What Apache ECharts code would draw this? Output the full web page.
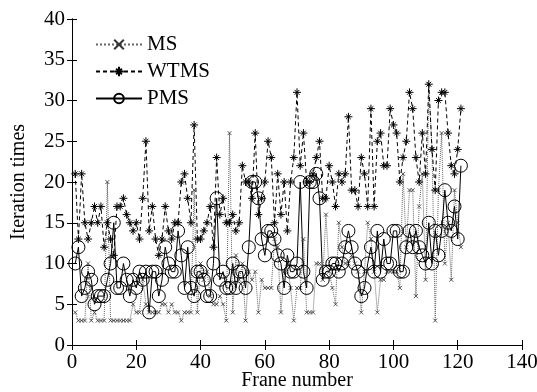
<!DOCTYPE html>
<html><head><meta charset="utf-8">
<script src="https://cdn.jsdelivr.net/npm/echarts@6/dist/echarts.min.js"></script>
<style>html,body{margin:0;padding:0;background:#fff}#c{width:537px;height:392px}</style>
</head><body><div id="c"></div>
<script>
var frames = [];
for (var i = 1; i <= 121; i++) frames.push(i);
var ms = [4,3,3,3,10,3,4,3,3,3,20,3,3,3,3,3,3,3,5,4,4,8,5,4,4,4,4,5,5,4,5,4,4,3,4,4,4,19,4,10,8,9,6,5,5,6,5,3,26,4,11,8,10,3,9,
8,9,4,8,7,7,7,13,12,4,9,10,7,3,7,7,13,4,4,4,10,10,8,16,9,7,5,15,12,10,10,11,10,9,4,9,15,13,9,4,8,8,9,9,9,9,7,21,12,19,19,6,17,21,8,32,24,3,19,26,10,15,8,19,15,12];
var wtms = [21,13,21,15,13,15,17,15,17,12,15,13,11,17,17,18,16,15,14,15,13,18,25,14,17,13,11,13,17,14,13,15,15,20,21,18,15,27,13,13,14,15,17,12,23,16,18,15,15,16,14,15,22,20,20,18,26,16,18,20,25,23,15,21,16,20,14,20,23,31,22,26,20,20,21,23,25,18,18,22,20,17,21,20,21,28,19,19,17,23,21,17,29,17,25,26,22,22,29,27,26,20,23,25,31,29,23,20,26,21,32,24,19,30,31,31,26,22,21,24,29];
var pms = [10,12,6,7,9,8,5,6,6,6,8,10,15,7,7,10,8,6,8,7,9,8,9,4,9,9,6,8,12,10,9,9,14,11,7,12,7,6,9,9,8,6,6,10,18,8,9,7,7,10,7,9,9,7,12,20,20,18,13,11,14,14,13,11,10,7,11,9,9,10,20,9,7,20,20,21,18,8,9,9,10,10,9,10,12,14,12,10,9,6,7,10,12,9,14,9,13,10,10,14,14,9,9,12,14,12,14,12,11,10,15,10,14,11,14,19,15,14,17,13,22];
var xTicks = [0,20,40,60,80,100,120,140];
var yTicks = [0,5,10,15,20,25,30,35,40];

function pairs(v){ return v.map(function(y,i){ return [frames[i], y]; }); }
var FONT = 'Liberation Serif';
var chart = echarts.init(document.getElementById('c'));
var axisBase = {
  axisLine:{show:true, lineStyle:{color:'#000', width:1}},
  axisTick:{show:true, inside:true, length:5, lineStyle:{color:'#000'}},
  splitLine:{show:false}
};
chart.setOption({
  animation:false,
  backgroundColor:'#fff',
  textStyle:{fontFamily:FONT, color:'#000'},
  grid:{left:72, right:15, top:19, bottom:47, show:false, containLabel:false, outerBoundsMode:'none'},
  legend:{
    orient:'vertical', left:90, top:29, itemWidth:46, itemHeight:12, itemGap:6,
    textStyle:{fontFamily:FONT, fontSize:21, color:'#000'},
    data:['MS','WTMS','PMS']
  },
  xAxis:[
    Object.assign({type:'value', min:xTicks[0], max:xTicks[xTicks.length-1], interval:20, position:'bottom',
      name:'Frane number', nameLocation:'middle', nameGap:26, nameMoveOverlap:false,
      nameTextStyle:{fontFamily:FONT, fontSize:20, color:'#000'},
      axisLabel:{fontFamily:FONT, fontSize:21, color:'#000', margin:7}}, axisBase),
    Object.assign({type:'value', min:0, max:140, interval:20, position:'top', axisLabel:{show:false}}, axisBase)
  ],
  yAxis:[
    Object.assign({type:'value', min:yTicks[0], max:yTicks[yTicks.length-1], interval:5, position:'left',
      name:'Iteration times', nameLocation:'middle', nameGap:43, nameMoveOverlap:false,
      nameTextStyle:{fontFamily:FONT, fontSize:20, color:'#000'},
      axisLabel:{fontFamily:FONT, fontSize:21, color:'#000', margin:7}}, axisBase),
    Object.assign({type:'value', min:0, max:40, interval:5, position:'right', axisLabel:{show:false}}, axisBase)
  ],
  series:[
    {name:'MS', type:'line', data:pairs(ms), symbol:'path://M0,0L10,10M10,0L0,10', symbolSize:4,
      lineStyle:{type:'dotted', width:1, color:'#666'},
      itemStyle:{color:'rgba(0,0,0,0)', borderColor:'#333', borderWidth:0.8}},
    {name:'WTMS', type:'line', data:pairs(wtms), symbol:'path://M5,0L5,10M0,5L10,5M2,2L8,8M8,2L2,8', symbolSize:8,
      lineStyle:{type:[4,3], width:1, color:'#000'},
      itemStyle:{color:'rgba(0,0,0,0)', borderColor:'#000', borderWidth:1}},
    {name:'PMS', type:'line', data:pairs(pms), symbol:'circle', symbolSize:13,
      lineStyle:{type:'solid', width:1, color:'#000'},
      itemStyle:{color:'rgba(0,0,0,0)', borderColor:'#000', borderWidth:1}}
  ]
});
</script></body></html>
